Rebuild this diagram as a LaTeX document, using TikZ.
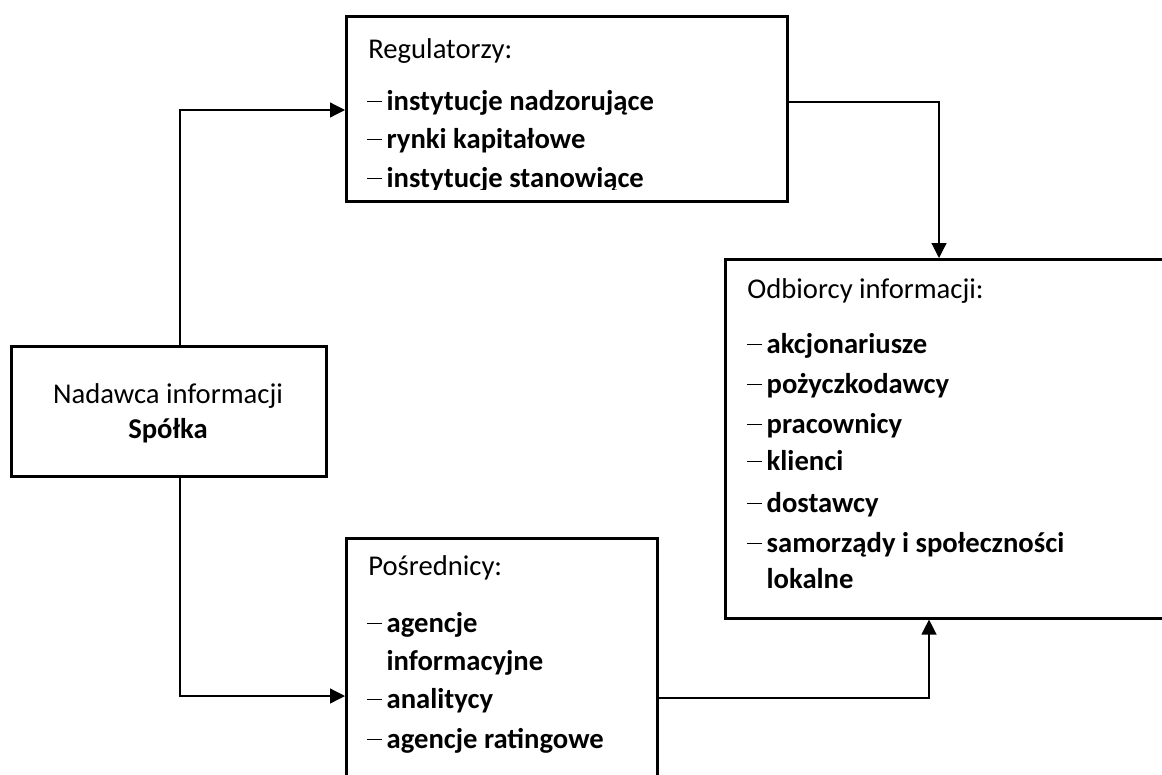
\documentclass[tikz,border=0pt]{standalone}
\usepackage{fontspec}
\setmainfont{Carlito}
\usetikzlibrary{arrows.meta,calc}

\newcommand{\itemdash}{\makebox[11pt][l]{\rule[4.3pt]{8.5pt}{0.6pt}}}
\newcommand{\itemgap}{\hspace*{11pt}}

\begin{document}
\begin{tikzpicture}[x=0.02cm, y=-0.02cm,
    box/.style={draw, line width=1.5pt, inner sep=0pt, anchor=north west},
    txt/.style={anchor=base west, inner sep=0pt, font=\fontsize{16.3}{20}\selectfont},
    mid/.style={anchor=base, inner sep=0pt, font=\fontsize{16.3}{20}\selectfont},
    conn/.style={line width=0.7pt, -{Triangle[length=8.5pt, width=8.5pt]}}]

    \useasboundingbox (0,0) rectangle (1162,774);
    \clip (0,0) rectangle (1162,774);

    % boxes
    \node[box, minimum width=6.3cm, minimum height=2.6cm] (nad) at (10,345) {};
    \node[box, minimum width=8.82cm, minimum height=3.7cm] (reg) at (345,15) {};
    \node[box, minimum width=9.52cm, minimum height=7.18cm] (odb) at (724,258) {};
    \node[box, minimum width=6.22cm, minimum height=5.66cm] (pos) at (345,537) {};

    % sender
    \node[mid] (nad-t) at (168,403) {Nadawca informacji};
    \node[mid] (nad-s) at (168,438) {\textbf{Spółka}};

    % regulators
    \begin{scope}
    \clip (reg.north west) rectangle ($(reg.north west)+(441,174)$);
    \node[txt] (reg-t) at (368,58) {Regulatorzy:};
    \node[txt] (reg-1) at (367,110) {\itemdash\textbf{instytucje nadzorujące}};
    \node[txt] (reg-2) at (367,148) {\itemdash\textbf{rynki kapitałowe}};
    \node[txt] (reg-3) at (367,187) {\itemdash\textbf{instytucje stanowiące}};
    \end{scope}

    % receivers
    \node[txt] (odb-t) at (747,298) {Odbiorcy informacji:};
    \node[txt] (odb-1) at (747,353) {\itemdash\textbf{akcjonariusze}};
    \node[txt] (odb-2) at (747,393) {\itemdash\textbf{pożyczkodawcy}};
    \node[txt] (odb-3) at (747,433) {\itemdash\textbf{pracownicy}};
    \node[txt] (odb-4) at (747,470) {\itemdash\textbf{klienci}};
    \node[txt] (odb-5) at (747,512) {\itemdash\textbf{dostawcy}};
    \node[txt] (odb-6) at (747,552) {\itemdash\textbf{samorządy i społeczności}};
    \node[txt] (odb-7) at (747,588) {\itemgap\textbf{lokalne}};

    % intermediaries
    \node[txt] (pos-t) at (368,575) {Pośrednicy:};
    \node[txt] (pos-1) at (367,632) {\itemdash\textbf{agencje}};
    \node[txt] (pos-2) at (367,670) {\itemgap\textbf{informacyjne}};
    \node[txt] (pos-3) at (367,708) {\itemdash\textbf{analitycy}};
    \node[txt] (pos-4) at (367,748) {\itemdash\textbf{agencje ratingowe}};

    % flows
    \draw[conn] ($(nad.north west)+(170,0)$) |- ($(reg.north west)+(0,95)$);
    \draw[conn] ($(nad.south west)+(170,0)$) |- ($(pos.north west)+(0,159)$);
    \draw[conn] ($(reg.north east)+(0,87)$) -| ($(odb.north west)+(215,0)$);
    \draw[conn] ($(pos.north east)+(0,161)$) -| ($(odb.south west)+(205,0)$);

\end{tikzpicture}
\end{document}
